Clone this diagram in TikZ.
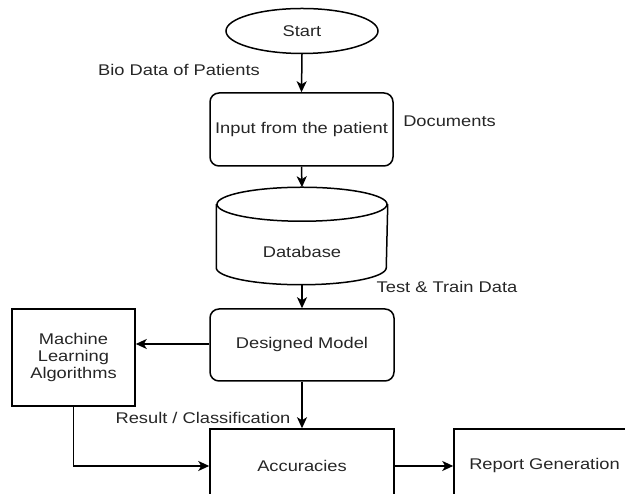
\documentclass[tikz,border=0pt]{standalone}
\usepackage{fontspec}
\setmainfont{Liberation Sans}[FakeStretch=1.18]
\usetikzlibrary{arrows.meta,shapes.geometric}
\begin{document}
\begin{tikzpicture}[x=1pt,y=1pt, line width=1.5pt,
  box/.style={draw, rectangle, inner sep=0pt, align=center},
  rbox/.style={box, rounded corners=9pt},
  lbl/.style={inner sep=0pt},
  arr/.style={-{Stealth[length=11pt,width=10pt,inset=3pt]}},
  font=\fontsize{15.5}{16.8}\selectfont, text=black!85]
\useasboundingbox (0,0) rectangle (625,494);
\clip (0,0) rectangle (625,494);
\node[draw, ellipse, minimum width=152pt, minimum height=45pt, inner sep=0pt] (start) at (302,463) {Start};
\node[rbox, minimum width=183pt, minimum height=73pt] (input) at (301.5,364.5) {Input from the patient};
\node[minimum width=170pt, minimum height=96pt, inner sep=0pt] (db) at (302,258) {};
\draw ([yshift=-17pt]db.north west) -- ([yshift=17pt]db.south west)
  arc[start angle=180, end angle=360, x radius=85pt, y radius=17pt]
  -- ([yshift=-17pt]db.north east);
\draw ([yshift=-17pt]db.north) ellipse [x radius=85pt, y radius=17pt];
\node[lbl] (dbtext) at (302,242) {Database};
\node[rbox, minimum width=184pt, minimum height=72pt] (dm) at (302,149) {Designed Model};
\node[box, minimum width=123pt, minimum height=97pt] (ml) at (73.5,136.5) {Machine\\Learning\\Algorithms};
\node[box, minimum width=184pt, minimum height=74pt] (acc) at (302,28) {Accuracies};
\node[box, minimum width=181pt, minimum height=74pt] (rep) at (544.5,28) {Report Generation};
\node[lbl] (l1) at (179,424) {Bio Data of Patients};
\node[lbl] (l2) at (449.5,373) {Documents};
\node[lbl] (l3) at (447,207) {Test \& Train Data};
\node[lbl] (l4) at (203,76) {Result / Classification};
\draw[arr] (start.south) -- (input.north);
\draw[arr] (input.south) -- (db.north);
\draw[arr] (db.south) -- (dm.north);
\draw[arr] ([yshift=1pt]dm.west) -- ([yshift=1pt]dm.west -| ml.east);
\draw[arr] (dm.south) -- (acc.north);
\draw[arr] (ml.south) |- (acc.west);
\draw[arr] (acc.east) -- (rep.west);
\end{tikzpicture}
\end{document}
